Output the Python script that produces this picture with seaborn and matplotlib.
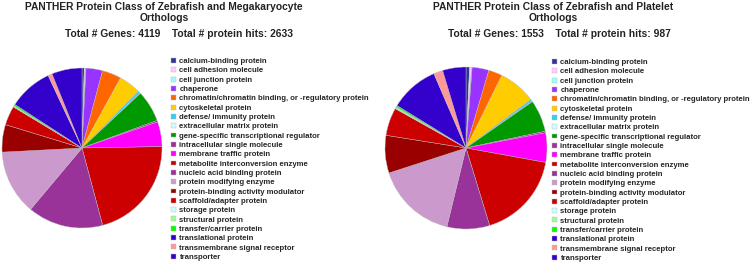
import matplotlib
matplotlib.use("Agg")
import matplotlib.pyplot as plt
import seaborn as sns

sns.set_theme(style="white")
plt.rcParams['font.family'] = ['Liberation Sans', 'DejaVu Sans']

categories = [
    "calcium-binding protein", "cell adhesion molecule", "cell junction protein",
    "chaperone", "chromatin/chromatin binding, or -regulatory protein",
    "cytoskeletal protein", "defense/ immunity protein", "extracellular matrix protein",
    "gene-specific transcriptional regulator", "intracellular single molecule",
    "membrane traffic protein", "metabolite interconversion enzyme",
    "nucleic acid binding protein", "protein modifying enzyme",
    "protein-binding activity modulator", "scaffold/adapter protein",
    "storage protein", "structural protein", "transfer/carrier protein",
    "translational protein", "transmembrane signal receptor", "transporter",
]
colors_hex = [
    "#333399", "#FFCCFF", "#99FFFF", "#9933FF", "#FF6600", "#FFCC00", "#33CCFF",
    "#CCFFFF", "#009900", "#993399", "#FF00FF", "#CC0000", "#993399", "#CC99CC",
    "#990000", "#CC0000", "#CCFFFF", "#99FF99", "#00FF00", "#3300CC", "#FF9999",
    "#3300CC",
]
mk_counts = [12, 5, 4, 88, 102, 117, 12, 3, 168, 8, 132, 556, 402, 344, 146, 102,
             1, 6, 8, 234, 22, 161]
pl_counts = [7, 4, 1, 33, 27, 74, 4, 1, 63, 3, 58, 172, 84, 160, 74, 55,
             1, 3, 3, 96, 18, 46]

titles = ["PANTHER Protein Class of Zebrafish and Megakaryocyte\nOrthologs",
          "PANTHER Protein Class of Zebrafish and Platelet\nOrthologs"]
totals = ["Total # Genes: 4119    Total # protein hits: 2633",
          "Total # Genes: 1553    Total # protein hits: 987"]

palette = sns.color_palette(colors_hex)

W, H = 750, 264
fig = plt.figure(figsize=(W / 100, H / 100), dpi=100)
fig.patch.set_facecolor("white")

panels = [
    dict(data=mk_counts, cx=82, cy=148, r=80, tx=164, ttx=179, lx=171, ly=58),
    dict(data=pl_counts, cx=466, cy=148, r=81, tx=553, ttx=559, lx=552, ly=59),
]

for p, title, total in zip(panels, titles, totals):
    ax = fig.add_axes([(p["cx"] - p["r"]) / W, (H - p["cy"] - p["r"]) / H,
                       2 * p["r"] / W, 2 * p["r"] / H])
    wedges, _ = ax.pie(p["data"], colors=palette, startangle=90, counterclock=False,
                       wedgeprops=dict(edgecolor="#bbbbbb", linewidth=0.3))
    ax.set_xlim(-1.0, 1.0)
    ax.set_ylim(-1.0, 1.0)
    ax.set_aspect("equal")
    ax.axis("off")
    fig.text(p["tx"] / W, 1 - 1.5 / H, title, ha="center", va="top",
             fontsize=7.4, fontweight="bold", color="#222222", linespacing=1.15)
    fig.text(p["ttx"] / W, 1 - 34 / H, total, ha="center", va="center",
             fontsize=7.4, fontweight="bold", color="#222222")
    fig.legend(wedges, categories, loc="upper left",
               bbox_to_anchor=(p["lx"] / W, 1 - p["ly"] / H),
               frameon=False, handlelength=0.6, handleheight=0.6,
               handletextpad=0.5, labelspacing=0.28, borderpad=0, borderaxespad=0,
               prop=dict(weight="bold", size=5.55))

fig.savefig("out.png", dpi=100, facecolor="white")
